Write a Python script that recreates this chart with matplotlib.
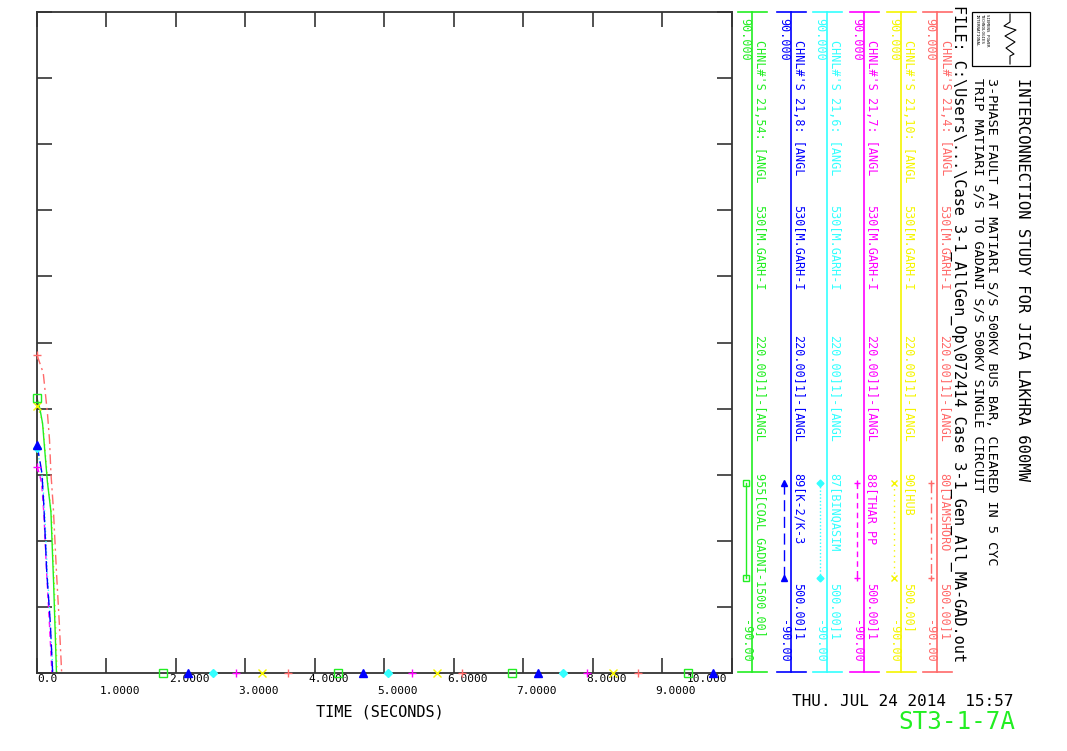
import numpy as np
import matplotlib.pyplot as plt
from matplotlib.lines import Line2D
from matplotlib.patches import Rectangle

W, H = 1067, 751
MONO = "DejaVu Sans Mono"

# bus angle channels (deg); after the last point the trace is off-scale below -90
t_red = [0.0, 0.09, 0.115, 0.15, 0.18, 0.20, 0.235, 0.28, 0.32, 0.355]
v_red = [-3.4, -8.3, -12.9, -19.2, -26.5, -35.5, -45.1, -62.5, -76.1, -90.0]
t_yel = [0.0, 0.05, 0.09, 0.12, 0.16, 0.21, 0.25, 0.29]
v_yel = [-17.4, -19.5, -23.0, -30.0, -39.0, -47.0, -66.0, -90.0]
t_mag = [0.0, 0.04, 0.07, 0.10, 0.14, 0.18, 0.215]
v_mag = [-33.9, -36.0, -39.0, -47.0, -63.0, -77.0, -90.0]
t_cya = [0.0, 0.04, 0.08, 0.11, 0.15, 0.19, 0.23]
v_cya = [-28.7, -33.0, -37.0, -46.0, -63.0, -76.0, -90.0]
t_blu = [0.0, 0.04, 0.07, 0.10, 0.14, 0.19, 0.225]
v_blu = [-27.9, -32.0, -35.5, -45.0, -62.5, -76.0, -90.0]
t_grn = [0.0, 0.04, 0.08, 0.11, 0.15, 0.20, 0.24, 0.28]
v_grn = [-15.2, -17.9, -22.0, -29.0, -38.0, -46.0, -66.0, -90.0]

# times where the plot puts a symbol on each trace
mk_red = [0.0, 3.61, 6.11, 8.65]
mk_yel = [0.0, 3.24, 5.76, 8.29]
mk_mag = [0.0, 2.87, 5.39, 7.91]
mk_cya = [0.0, 2.53, 5.05, 7.57]
mk_blu = [0.0, 2.17, 4.69, 7.21, 9.73]
mk_grn = [0.0, 1.81, 4.33, 6.84, 9.36]

x_ticks = [0, 1, 2, 3, 4, 5, 6, 7, 8, 9, 10]
x_labels = ["0.0", "1.0000", "2.0000", "3.0000", "4.0000", "5.0000",
            "6.0000", "7.0000", "8.0000", "9.0000", "10.000"]

names = ["80[JAMSHORO", "90[HUB", "88[THAR PP", "87[BINQASIM", "89[K-2/K-3",
         "955[COAL GADNI-1500.00]"]
chnls = ["CHNL#'S 21,4: [ANGL", "CHNL#'S 21,10: [ANGL", "CHNL#'S 21,7: [ANGL",
         "CHNL#'S 21,6: [ANGL", "CHNL#'S 21,8: [ANGL", "CHNL#'S 21,54: [ANGL"]
kv_tail = ["500.00]1", "500.00]", "500.00]1", "500.00]1", "500.00]1", ""]

series = [
    (t_red, v_red, mk_red, "#ff6a6a", (0, (7, 3, 1.5, 3)), "+"),
    (t_yel, v_yel, mk_yel, "#f5f500", (0, (1, 3)), "x"),
    (t_mag, v_mag, mk_mag, "#ff00ff", (0, (4, 3)), "+"),
    (t_cya, v_cya, mk_cya, "#33ffff", (0, (1, 1.5)), "D"),
    (t_blu, v_blu, mk_blu, "#0000ff", (0, (8, 4)), "^"),
    (t_grn, v_grn, mk_grn, "#22ee22", "-", "s"),
]

fig = plt.figure(figsize=(W / 100, H / 100), dpi=100)
fig.patch.set_facecolor("white")


def fx(x):
    return x / W


def fy(y):
    return 1 - y / H


ax = fig.add_axes([fx(37), fy(673), (732 - 37) / W, (673 - 12) / H])
ax.set_xlim(0, 10)
ax.set_ylim(-90, 90)

for t, v, mk, col, ls, m in series:
    ax.plot(t, v, color=col, lw=1.0, ls=ls, zorder=2)
    mv = np.interp(mk, t, v, right=-90.0)
    face = "none" if m == "s" else col
    ax.plot(mk, mv, ls="none", marker=m, ms=5.5 if m != "D" else 4,
            mec=col, mfc=face, mew=1.0, clip_on=False, zorder=5)

ax.set_xticks(x_ticks)
ax.set_yticks(np.arange(-90, 91, 18))
ax.tick_params(direction="in", length=11, width=1.2, color="#333333",
               top=True, right=True, labelbottom=False, labelleft=False)
for s in ax.spines.values():
    s.set_linewidth(1.3)
    s.set_color("#333333")
    s.set_zorder(4)

# two-row x tick labels
trans = ax.get_xaxis_transform()
for i, (xt, lab) in enumerate(zip(x_ticks, x_labels)):
    yrow = -0.009 if i % 2 == 0 else -0.027
    if i == 0:
        ax.text(xt, yrow, lab, transform=trans, ha="left", va="center",
                fontsize=8, family=MONO)
    elif i == len(x_ticks) - 1:
        ax.text(xt - 0.07, yrow, lab, transform=trans, ha="right", va="center",
                fontsize=8, family=MONO)
    else:
        ax.text(xt - 0.1, yrow, lab, transform=trans, ha="left", va="center",
                fontsize=8, family=MONO)

fig.text(fx(380), fy(712), "TIME (SECONDS)", ha="center", va="center",
         fontsize=11, family=MONO)

# channel scale / legend columns on the right
col_x = [937, 900.5, 863.5, 826.5, 790.5, 752]
for k, (cx, (t, v, mk, col, ls, m)) in enumerate(zip(col_x, series)):
    fig.add_artist(Line2D([fx(cx), fx(cx)], [fy(12), fy(672)], color=col, lw=1.2))
    fig.add_artist(Line2D([fx(cx - 14), fx(cx + 15)], [fy(12), fy(12)], color=col, lw=1.2))
    fig.add_artist(Line2D([fx(cx - 14), fx(cx + 15)], [fy(672), fy(672)], color=col, lw=1.2))
    fig.text(fx(cx - 7), fy(18), "90.000", rotation=-90, ha="center", va="top",
             fontsize=8.5, family=MONO, color=col)
    fig.text(fx(cx - 7), fy(620), "-90.00", rotation=-90, ha="center", va="top",
             fontsize=8.5, family=MONO, color=col)
    kx = cx - 6.5
    fig.add_artist(Line2D([fx(kx), fx(kx)], [fy(483), fy(578)], color=col, lw=1.0, ls=ls))
    face = "none" if m == "s" else col
    fig.add_artist(Line2D([fx(kx), fx(kx)], [fy(483), fy(578)], ls="none", marker=m,
                          ms=5 if m != "D" else 3.5, mec=col, mfc=face, mew=1.0))
    segs = [(40, chnls[k]), (205, "530[M.GARH-I"), (335, "220.00]1]-[ANGL"),
            (473, names[k]), (583, kv_tail[k])]
    for yy, s in segs:
        if s:
            fig.text(fx(cx + 8), fy(yy), s, rotation=-90, ha="center", va="top",
                     fontsize=8.5, family=MONO, color=col)

# title block
titles = [
    (1022, 78, "INTERCONNECTION STUDY FOR JICA LAKHRA 600MW", 11.2),
    (991, 78, "3-PHASE FAULT AT MATIARI S/S 500KV BUS BAR, CLEARED IN 5 CYC", 9.7),
    (978, 78, "TRIP MATIARI S/S TO GADANI S/S 500KV SINGLE CIRCUIT", 9.7),
    (958, 5, "FILE: C:\\Users\\...\\Case 3-1_AllGen_Op\\072414 Case 3-1_Gen_All_MA-GAD.out", 11.0),
]
for x, y, s, fs in titles:
    fig.text(fx(x), fy(y), s, rotation=-90, ha="center", va="top",
             fontsize=fs, family=MONO, color="black")

# logo box
fig.add_artist(Rectangle((fx(972), fy(66)), fx(58), 54 / H, fill=False,
                         ec="black", lw=0.9, transform=fig.transFigure))
lx = [1010, 1010, 1004, 1016, 1005, 1015, 1006, 1014, 1010, 1010]
ly = [14, 22, 26, 30, 36, 42, 48, 54, 56, 64]
fig.add_artist(Line2D([fx(a) for a in lx], [fy(b) for b in ly], color="black", lw=0.8))
for i, s in enumerate(["SIEMENS POWER", "TECHNOLOGIES", "INTERNATIONAL"]):
    fig.text(fx(987 - i * 5), fy(14), s, rotation=-90, ha="center", va="top",
             fontsize=3, family=MONO, color="black")

fig.text(fx(903), fy(702), "THU. JUL 24 2014  15:57", ha="center", va="center",
         fontsize=11.5, family=MONO, color="black")
fig.text(fx(957), fy(722), "ST3-1-7A", ha="center", va="center",
         fontsize=17.5, family=MONO, color="#22ee22")

fig.savefig("out.png", dpi=100, facecolor="white")
